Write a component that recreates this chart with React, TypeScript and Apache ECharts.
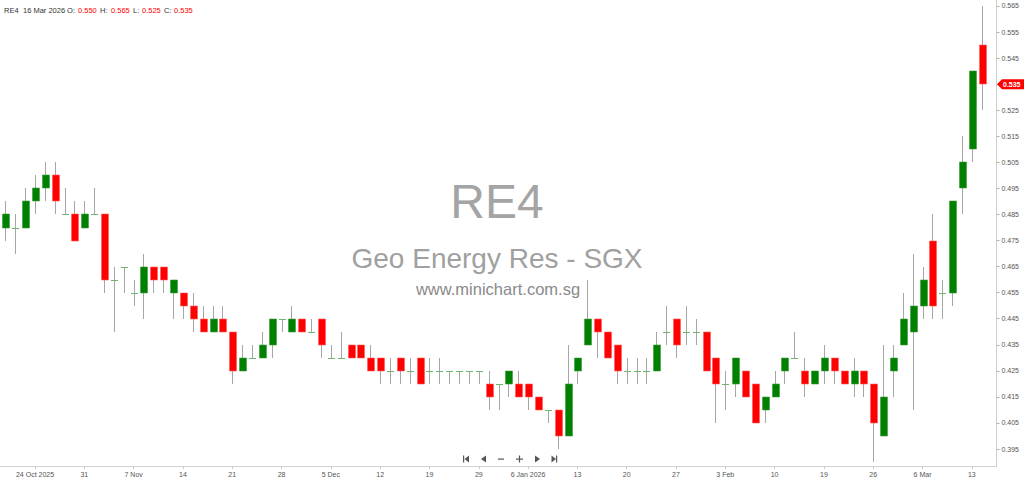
import React, { useEffect, useRef } from 'react';
import * as echarts from 'echarts';

const SYMBOL = 'RE4';
const NAME = 'Geo Energy Res - SGX';
const SITE = 'www.minichart.com.sg';

const DATES = [
  '2025-10-21','2025-10-22','2025-10-23','2025-10-24','2025-10-27','2025-10-28','2025-10-29','2025-10-30','2025-10-31',
  '2025-11-03','2025-11-04','2025-11-05','2025-11-06','2025-11-07','2025-11-10','2025-11-11','2025-11-12','2025-11-13','2025-11-14',
  '2025-11-17','2025-11-18','2025-11-19','2025-11-20','2025-11-21','2025-11-24','2025-11-25','2025-11-26','2025-11-27','2025-11-28',
  '2025-12-01','2025-12-02','2025-12-03','2025-12-04','2025-12-05','2025-12-08','2025-12-09','2025-12-10','2025-12-11','2025-12-12',
  '2025-12-15','2025-12-16','2025-12-17','2025-12-18','2025-12-19','2025-12-22','2025-12-23','2025-12-24','2025-12-26','2025-12-29',
  '2025-12-30','2025-12-31',
  '2026-01-02','2026-01-05','2026-01-06','2026-01-07','2026-01-08','2026-01-09','2026-01-12','2026-01-13','2026-01-14','2026-01-15',
  '2026-01-16','2026-01-19','2026-01-20','2026-01-21','2026-01-22','2026-01-23','2026-01-26','2026-01-27','2026-01-28','2026-01-29',
  '2026-01-30',
  '2026-02-02','2026-02-03','2026-02-04','2026-02-05','2026-02-06','2026-02-09','2026-02-10','2026-02-11','2026-02-12','2026-02-13',
  '2026-02-16','2026-02-19','2026-02-20','2026-02-23','2026-02-24','2026-02-25','2026-02-26','2026-02-27',
  '2026-03-03','2026-03-04','2026-03-05','2026-03-06','2026-03-09','2026-03-10','2026-03-11','2026-03-12','2026-03-13','2026-03-16',
];

const OPEN = [
  0.480,0.480,0.480,0.490,0.495,0.500,0.485,0.485,0.480,0.485,
  0.485,0.460,0.465,0.455,0.455,0.465,0.465,0.455,0.455,0.450,
  0.445,0.440,0.445,0.440,0.425,0.430,0.430,0.435,0.445,0.440,
  0.445,0.440,0.445,0.430,0.430,0.435,0.435,0.430,0.430,0.425,
  0.430,0.425,0.430,0.425,0.425,0.425,0.425,0.425,0.425,0.420,
  0.420,0.420,0.420,0.420,0.415,0.410,0.410,0.400,0.425,0.435,
  0.445,0.440,0.435,0.425,0.425,0.425,0.425,0.440,0.445,0.440,
  0.440,0.440,0.430,0.420,0.420,0.425,0.420,0.410,0.415,0.425,
  0.430,0.425,0.420,0.425,0.430,0.425,0.420,0.425,0.420,0.400,
  0.425,0.435,0.440,0.450,0.475,0.455,0.455,0.495,0.510,0.550,
];
const HIGH = [
  0.490,0.485,0.495,0.500,0.505,0.505,0.495,0.490,0.490,0.495,
  0.485,0.465,0.465,0.460,0.470,0.465,0.465,0.460,0.455,0.455,
  0.450,0.450,0.450,0.440,0.435,0.435,0.440,0.445,0.445,0.450,
  0.445,0.445,0.445,0.435,0.440,0.435,0.435,0.435,0.430,0.430,
  0.430,0.430,0.430,0.430,0.430,0.425,0.425,0.425,0.425,0.425,
  0.420,0.425,0.425,0.420,0.415,0.410,0.410,0.435,0.430,0.460,
  0.445,0.440,0.435,0.430,0.430,0.430,0.440,0.450,0.445,0.450,
  0.445,0.440,0.430,0.425,0.430,0.425,0.420,0.415,0.425,0.430,
  0.440,0.430,0.425,0.435,0.430,0.425,0.430,0.425,0.420,0.435,
  0.435,0.455,0.470,0.465,0.485,0.460,0.490,0.515,0.540,0.565,
];
const LOW = [
  0.475,0.470,0.480,0.485,0.490,0.485,0.485,0.475,0.480,0.485,
  0.455,0.440,0.455,0.450,0.445,0.455,0.455,0.445,0.445,0.440,
  0.440,0.440,0.440,0.420,0.425,0.430,0.430,0.430,0.440,0.440,
  0.440,0.440,0.430,0.430,0.430,0.430,0.430,0.425,0.420,0.420,
  0.420,0.420,0.420,0.420,0.420,0.420,0.420,0.420,0.420,0.410,
  0.410,0.415,0.415,0.410,0.410,0.405,0.395,0.400,0.420,0.435,
  0.430,0.430,0.420,0.420,0.420,0.420,0.425,0.435,0.430,0.435,
  0.435,0.425,0.405,0.410,0.415,0.415,0.405,0.405,0.415,0.420,
  0.430,0.415,0.420,0.420,0.420,0.420,0.415,0.415,0.390,0.400,
  0.415,0.435,0.410,0.445,0.445,0.445,0.450,0.485,0.505,0.525,
];
const CLOSE = [
  0.485,0.480,0.490,0.495,0.500,0.490,0.485,0.475,0.485,0.485,
  0.460,0.460,0.465,0.455,0.465,0.460,0.460,0.460,0.450,0.445,
  0.440,0.445,0.440,0.425,0.430,0.430,0.435,0.445,0.445,0.445,
  0.440,0.440,0.435,0.430,0.430,0.430,0.430,0.425,0.425,0.425,
  0.425,0.425,0.420,0.425,0.425,0.425,0.425,0.425,0.425,0.415,
  0.420,0.425,0.415,0.415,0.410,0.410,0.400,0.420,0.430,0.445,
  0.440,0.430,0.425,0.425,0.425,0.425,0.435,0.440,0.435,0.440,
  0.440,0.425,0.420,0.420,0.430,0.415,0.405,0.415,0.420,0.430,
  0.430,0.420,0.425,0.430,0.425,0.420,0.425,0.420,0.405,0.415,
  0.430,0.445,0.450,0.460,0.450,0.455,0.490,0.505,0.540,0.535,
];

const X_TICK_DATES = [
  '2025-10-24','2025-10-31','2025-11-07','2025-11-14','2025-11-21','2025-11-28','2025-12-05','2025-12-12','2025-12-19','2025-12-29',
  '2026-01-06','2026-01-13','2026-01-20','2026-01-27','2026-02-03','2026-02-10','2026-02-19','2026-02-26','2026-03-06','2026-03-13',
];
const X_TICK_LABELS = [
  '24 Oct 2025','31','7 Nov','14','21','28','5 Dec','12','19','29',
  '6 Jan 2026','13','20','27','3 Feb','10','19','26','6 Mar','13',
];
const Y_TICKS = [
  0.395,0.405,0.415,0.425,0.435,0.445,0.455,0.465,0.475,0.485,
  0.495,0.505,0.515,0.525,0.535,0.545,0.555,0.565,
];

const MONTHS = ['Jan','Feb','Mar','Apr','May','Jun','Jul','Aug','Sep','Oct','Nov','Dec'];
function fmtDate(s: string) {
  const [y, m, d] = s.split('-').map(Number);
  return `${d} ${MONTHS[m - 1]} ${y}`;
}

const SMALL_FONT = 'Liberation Sans';

export default function App() {
  const ref = useRef<HTMLDivElement>(null);
  useEffect(() => {
    if (!ref.current) return;
    const chart = echarts.init(ref.current, undefined, { renderer: 'svg' });
    const data = DATES.map((d, i) => [i, OPEN[i], CLOSE[i], LOW[i], HIGH[i]]);
    const isTick = (v: string) => X_TICK_DATES.indexOf(v) >= 0;

    chart.setOption({
      animation: false,
      backgroundColor: '#ffffff',
      grid: { left: 0.5, right: 27.5, top: 0, bottom: 18 },
      xAxis: {
        type: 'category',
        data: [...DATES, ''],
        boundaryGap: true,
        axisLine: { show: true, lineStyle: { color: '#d0d0d0', width: 1 } },
        axisTick: {
          show: true,
          alignWithLabel: true,
          length: 3,
          interval: (_i: number, v: string) => isTick(v),
          lineStyle: { color: '#c8c8c8' },
        },
        axisLabel: {
          interval: (_i: number, v: string) => isTick(v),
          formatter: (v: string) => {
            const k = X_TICK_DATES.indexOf(v);
            return k >= 0 ? X_TICK_LABELS[k] : '';
          },
          fontSize: 7,
          color: '#555',
          fontFamily: SMALL_FONT,
          margin: 5,
        },
        splitLine: { show: false },
      },
      yAxis: {
        type: 'value',
        position: 'right',
        min: 0.3885,
        max: 0.5673,
        scale: true,
        axisLine: { show: true, lineStyle: { color: '#d0d0d0', width: 1 } },
        axisTick: { show: true, length: 3, customValues: Y_TICKS, lineStyle: { color: '#b0b0b0' } },
        axisLabel: {
          customValues: Y_TICKS,
          formatter: (v: number) => v.toFixed(3),
          fontSize: 7,
          color: '#555',
          fontFamily: SMALL_FONT,
          margin: 5,
        },
        splitLine: { show: false },
      },
      series: [
        {
          type: 'custom',
          data,
          encode: { x: 0, y: [1, 2, 3, 4] },
          z: 5,
          renderItem: (_p: any, api: any) => {
            const i = api.value(0);
            const o = api.value(1), c = api.value(2), l = api.value(3), h = api.value(4);
            const pO = api.coord([i, o]);
            const pC = api.coord([i, c]);
            const pL = api.coord([i, l]);
            const pH = api.coord([i, h]);
            const band = api.size([1, 0])[0];
            const w = Math.round(band * 0.74);
            const cx = Math.round(pO[0]);
            const top = Math.round(Math.min(pO[1], pC[1]));
            const bot = Math.round(Math.max(pO[1], pC[1]));
            let fill = '#008000', stroke = '#3c9a3c';
            if (c < o) { fill = '#ff0000'; stroke = '#ff5a5a'; }
            const children: any[] = [
              {
                type: 'line',
                shape: { x1: cx + 0.5, y1: Math.round(pH[1]), x2: cx + 0.5, y2: Math.round(pL[1]) },
                style: { stroke: '#a6a6a6', lineWidth: 1 },
              },
            ];
            if (c === o) {
              children.push({
                type: 'line',
                shape: { x1: cx - w / 2 + 0.5, y1: top + 0.5, x2: cx + w / 2 + 0.5, y2: top + 0.5 },
                style: { stroke: '#6db46d', lineWidth: 1 },
              });
            } else {
              children.push({
                type: 'rect',
                shape: { x: cx - w / 2 + 1, y: top, width: w, height: Math.max(1, bot - top) },
                style: { fill, stroke, lineWidth: 0.6 },
              });
            }
            return { type: 'group', children };
          },
        },
      ],
    });

    const last = DATES.length - 1;
    const yTag = chart.convertToPixel({ yAxisIndex: 0 }, CLOSE[last]) as number;
    const navY = 459;
    const navColor = '#555';
    const hdr = (text: string, x: number, fill: string) => ({
      type: 'text', z: 10, x, y: 10,
      style: { text, fontSize: 7.5, fontFamily: SMALL_FONT, fill, verticalAlign: 'middle' },
    });

    chart.setOption({
      graphic: [
        {
          type: 'text', z: 0, silent: true, x: 497, y: 201,
          style: { text: SYMBOL, fontSize: 48, fontFamily: 'Liberation Sans', fill: '#a4a4a4', align: 'center', verticalAlign: 'middle' },
        },
        {
          type: 'text', z: 0, silent: true, x: 497, y: 258,
          style: { text: NAME, fontSize: 28, fontFamily: 'Liberation Sans', fill: '#a0a0a0', align: 'center', verticalAlign: 'middle' },
        },
        {
          type: 'text', z: 0, silent: true, x: 498, y: 289,
          style: { text: SITE, fontSize: 16.5, fontFamily: 'Liberation Sans', fill: '#8a8a8a', align: 'center', verticalAlign: 'middle' },
        },
        hdr(SYMBOL, 4, '#333'),
        hdr(fmtDate(DATES[last]), 23, '#333'),
        hdr('O:', 67, '#333'),
        hdr(OPEN[last].toFixed(3), 78, '#ff0000'),
        hdr('H:', 100, '#333'),
        hdr(HIGH[last].toFixed(3), 111, '#ff0000'),
        hdr('L:', 133, '#333'),
        hdr(LOW[last].toFixed(3), 142, '#ff0000'),
        hdr('C:', 164, '#333'),
        hdr(CLOSE[last].toFixed(3), 174, '#ff0000'),
        {
          type: 'polygon', z: 10,
          shape: { points: [[997, yTag], [1002, yTag - 5], [1024, yTag - 5], [1024, yTag + 5], [1002, yTag + 5]] },
          style: { fill: '#ff0000' },
        },
        {
          type: 'text', z: 11, x: 1003, y: yTag,
          style: { text: CLOSE[last].toFixed(3), fontSize: 7, fontFamily: SMALL_FONT, fontWeight: 'bold', fill: '#ffffff', verticalAlign: 'middle' },
        },
        { type: 'rect', z: 10, shape: { x: 463, y: navY - 3.5, width: 1.2, height: 7 }, style: { fill: navColor } },
        { type: 'polygon', z: 10, shape: { points: [[464.5, navY], [469, navY - 3.5], [469, navY + 3.5]] }, style: { fill: navColor } },
        { type: 'polygon', z: 10, shape: { points: [[481, navY], [486, navY - 3.5], [486, navY + 3.5]] }, style: { fill: navColor } },
        { type: 'rect', z: 10, shape: { x: 498, y: navY - 0.5, width: 6, height: 1.2 }, style: { fill: navColor } },
        { type: 'rect', z: 10, shape: { x: 516, y: navY - 0.5, width: 7, height: 1.2 }, style: { fill: navColor } },
        { type: 'rect', z: 10, shape: { x: 518.9, y: navY - 3.5, width: 1.2, height: 7 }, style: { fill: navColor } },
        { type: 'polygon', z: 10, shape: { points: [[540, navY], [535, navY - 3.5], [535, navY + 3.5]] }, style: { fill: navColor } },
        { type: 'polygon', z: 10, shape: { points: [[556, navY], [551.5, navY - 3.5], [551.5, navY + 3.5]] }, style: { fill: navColor } },
        { type: 'rect', z: 10, shape: { x: 556, y: navY - 3.5, width: 1.2, height: 7 }, style: { fill: navColor } },
      ],
    });

    return () => chart.dispose();
  }, []);

  return (
    <div
      ref={ref}
      style={{ position: 'fixed', left: 0, top: 0, width: 1024, height: 484, background: '#fff' }}
    />
  );
}
